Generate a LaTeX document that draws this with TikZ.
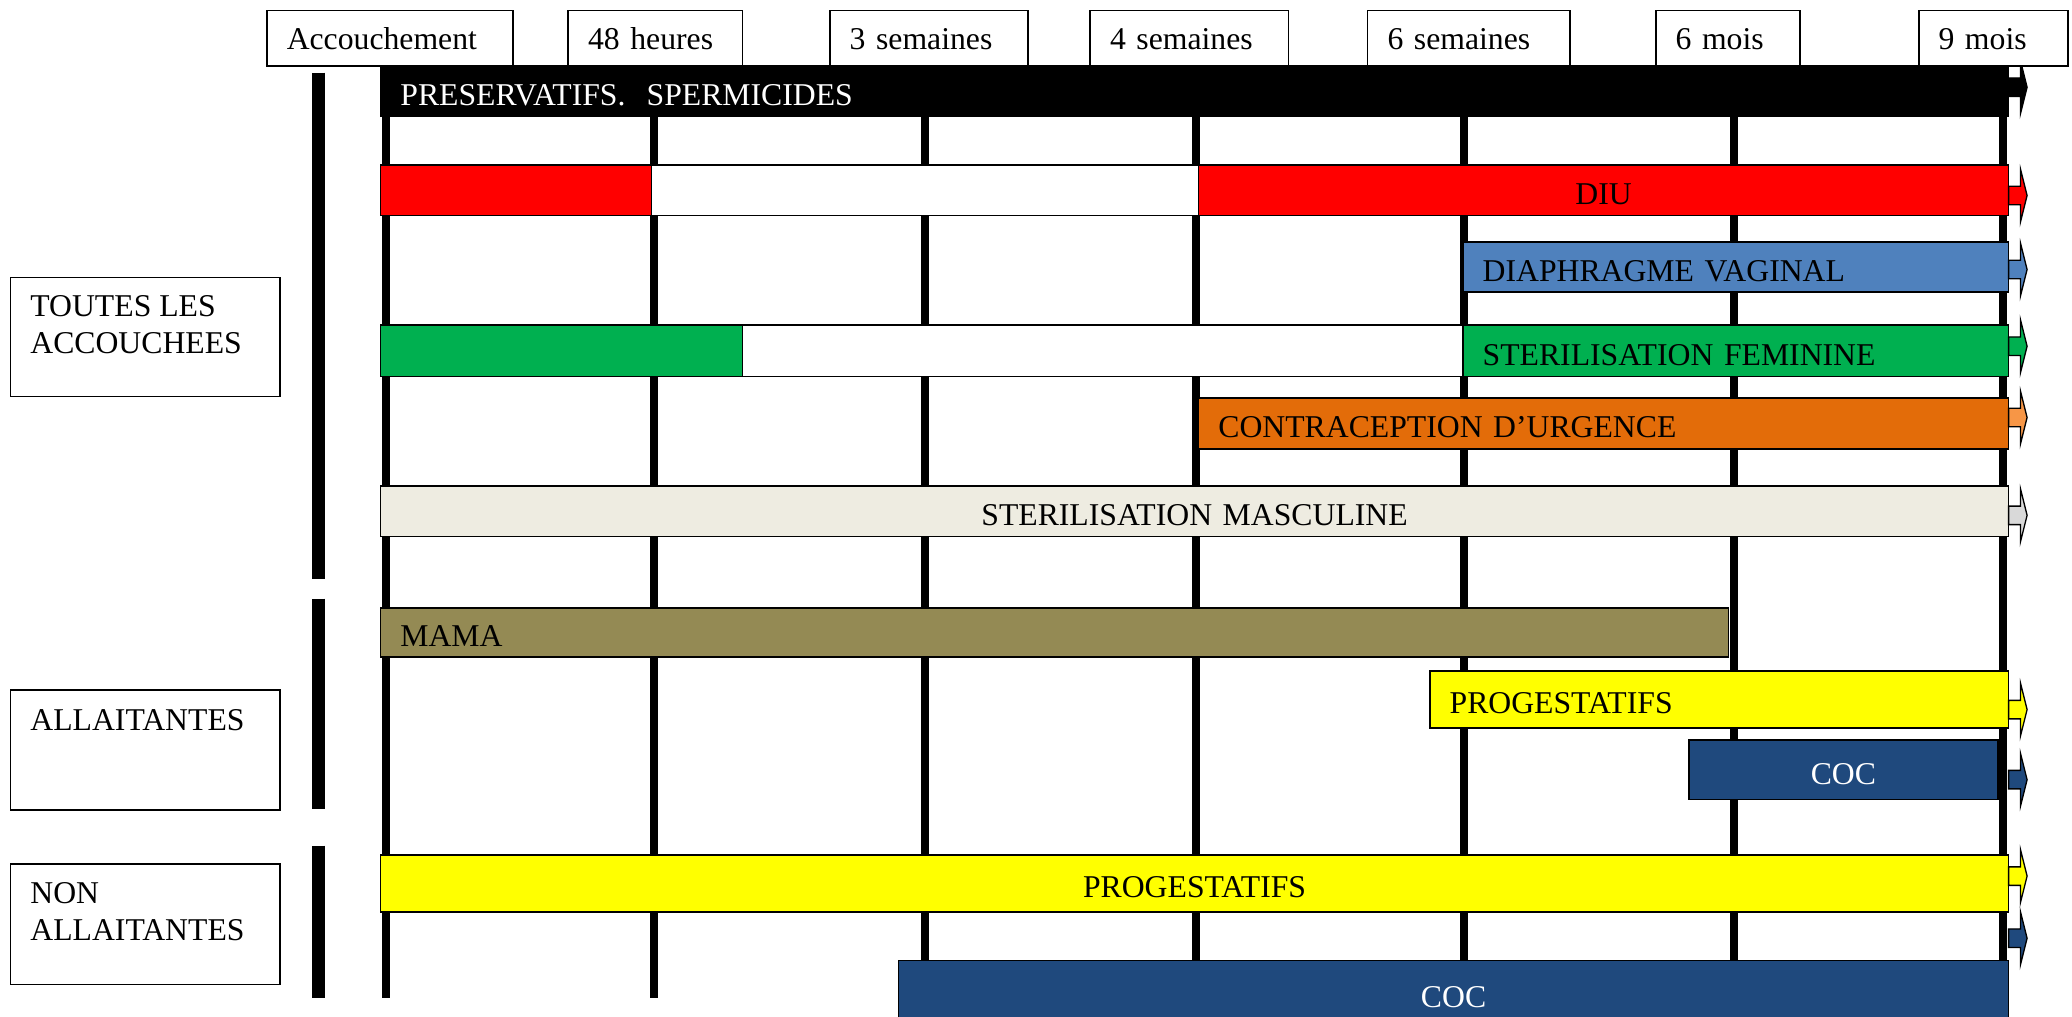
\documentclass[tikz,border=0pt]{standalone}
\usepackage{fontspec}
\setmainfont{Liberation Serif}
\definecolor{diured}{HTML}{FF0000}
\definecolor{diaphblue}{HTML}{4F81BD}
\definecolor{sterilgreen}{HTML}{00B050}
\definecolor{urgorange}{HTML}{E36C09}
\definecolor{urglight}{HTML}{F79646}
\definecolor{mascbeige}{HTML}{EEECE1}
\definecolor{mascgray}{HTML}{D9D9D9}
\definecolor{mamaolive}{HTML}{948A54}
\definecolor{progyellow}{HTML}{FFFF00}
\definecolor{cocnavy}{HTML}{1F497D}
\begin{document}
\begin{tikzpicture}[x=0.5pt,y=-0.5pt,
  every node/.style={font=\fontsize{12}{14}\selectfont, inner sep=0pt, outer sep=0pt},
  hdr/.style={draw, line width=0.6pt, fill=white, anchor=north west, inner xsep=7.5pt,
              text width=#1, align=left, minimum height=21pt, text height=8.6pt, text depth=0pt},
  bar/.style={draw, line width=0.6pt, anchor=north west},
  txtl/.style={inner xsep=7.5pt, text width=#1, align=left, text height=10.8pt, text depth=0pt},
  txtc/.style={inner xsep=7.5pt, text width=#1, align=center, text height=10.8pt, text depth=0pt},
  grp/.style={draw, line width=0.6pt, anchor=north west, minimum width=102pt, minimum height=45.5pt},
  grptext/.style={anchor=north west, align=left},
  gridline/.style={line width=3pt},
  sidebar/.style={line width=5pt},
  pics/tip/.style={code={
    \filldraw[fill=#1, draw=black, line width=0.5pt]
      (0,-7) -- (9,-7) -- (9,-20) -- (14,0) -- (9,20) -- (9,7) -- (0,7) -- cycle;}}
]
\clip (0,0) rectangle (1568,769);

% time grid
\foreach \gx in {292,495,700,905,1108,1312,1516}
  \draw[gridline] (\gx,60) -- (\gx,755);

% group separators
\draw[sidebar] (241,55) -- (241,438);
\draw[sidebar] (241,453) -- (241,612);
\draw[sidebar] (241,640) -- (241,755);

% method bars
\node[bar, fill=black, text=white, txtl=601pt, minimum height=19pt] (pres) at (288,50)
  {PRESERVATIFS.\ \ SPERMICIDES};

\node[bar, fill=diured, minimum width=102.5pt, minimum height=19pt] (diua) at (288,125) {};
\node[bar, fill=white, minimum width=207pt, minimum height=19pt] (diub) at (493,125) {};
\node[bar, fill=diured, txtc=291.5pt, minimum height=19pt] (diuc) at (907,125) {DIU};

\node[bar, fill=diaphblue, txtl=191.5pt, minimum height=19pt] (diaph) at (1107,183)
  {DIAPHRAGME VAGINAL};

\node[bar, fill=sterilgreen, minimum width=137pt, minimum height=19.5pt] (sfa) at (288,246) {};
\node[bar, fill=white, minimum width=272.5pt, minimum height=19.5pt] (sfb) at (562,246) {};
\node[bar, fill=sterilgreen, txtl=191.5pt, minimum height=19.5pt] (sfc) at (1107,246)
  {STERILISATION FEMININE};

\node[bar, fill=urgorange, txtl=291.5pt, minimum height=19.5pt] (urg) at (907,301)
  {CONTRACEPTION D’URGENCE};

\node[bar, fill=mascbeige, txtc=601pt, minimum height=19pt] (masc) at (288,368)
  {STERILISATION MASCULINE};

\node[bar, fill=mamaolive, txtl=495pt, minimum height=18.5pt] (mama) at (288,460) {MAMA};

\node[bar, fill=progyellow, txtl=204pt, minimum height=21.5pt] (proga) at (1082,508)
  {PROGESTATIFS};
\node[bar, fill=cocnavy, text=white, txtc=102pt, minimum height=22.5pt] (coca) at (1278,560)
  {COC};

\node[bar, fill=progyellow, txtc=601pt, minimum height=21.5pt] (progn) at (288,647)
  {PROGESTATIFS};
\node[bar, fill=cocnavy, text=white, txtc=405pt, minimum height=25pt] (cocn) at (680,727)
  {COC};

% open-ended arrows beyond 9 mois
\pic at (1520,66)  {tip=black};
\pic at (1520,148) {tip=diured};
\pic at (1520,204) {tip=diaphblue};
\pic at (1520,262) {tip=sterilgreen};
\pic at (1520,316) {tip=urglight};
\pic at (1520,390) {tip=mascgray};
\pic at (1520,537) {tip=progyellow};
\pic at (1520,590) {tip=cocnavy};
\pic at (1520,663) {tip=progyellow};
\pic at (1520,710) {tip=cocnavy};

% time headers
\node[hdr=78pt]   (t0) at (202,8)  {Accouchement};
\node[hdr=51pt]   (t1) at (430,8)  {48 heures};
\node[hdr=60pt]   (t2) at (628,8)  {3 semaines};
\node[hdr=60pt]   (t3) at (825,8)  {4 semaines};
\node[hdr=61.5pt] (t4) at (1035,8) {6 semaines};
\node[hdr=39.5pt] (t5) at (1253,8) {6 mois};
\node[hdr=41.5pt] (t6) at (1452,8) {9 mois};

% population groups
\node[grp, minimum height=45pt] (gall) at (8,210) {};
\node[grptext] (galltxt) at (23,224) {TOUTES LES\\ACCOUCHEES};
\node[grp] (gbf) at (8,522) {};
\node[grptext] (gbftxt) at (23,537) {ALLAITANTES};
\node[grp] (gnbf) at (8,654) {};
\node[grptext] (gnbftxt) at (23,668) {NON\\ALLAITANTES};
\end{tikzpicture}
\end{document}
